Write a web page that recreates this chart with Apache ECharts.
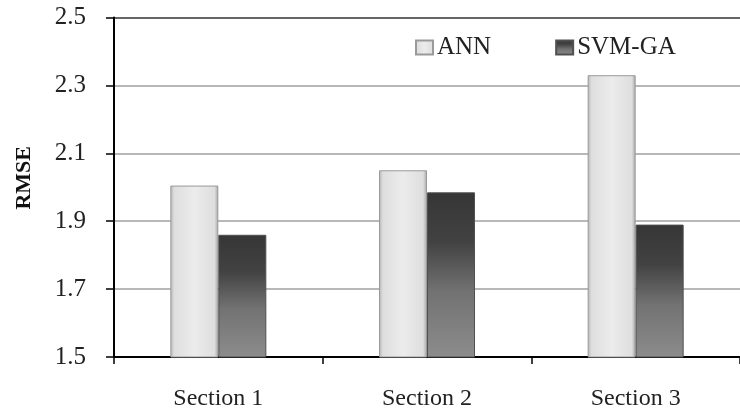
<!DOCTYPE html>
<html>
<head>
<meta charset="utf-8">
<script src="https://cdn.jsdelivr.net/npm/echarts@6/dist/echarts.min.js"></script>
<style>html,body{margin:0;padding:0;background:#fff;}#c{width:740px;height:411px;}</style>
</head>
<body>
<div id="c"></div>
<script>
var categories = ['Section 1', 'Section 2', 'Section 3'];
var annValues = [2.005, 2.05, 2.33];
var svmValues = [1.86, 1.985, 1.89];
var seriesNames = ['ANN', 'SVM-GA'];
var yMin = 1.5, yMax = 2.5, yInterval = 0.2;

var font = '"Liberation Serif", "DejaVu Serif", serif';
var chart = echarts.init(document.getElementById('c'), null, {renderer: 'canvas'});

var annColor = new echarts.graphic.LinearGradient(0, 0, 1, 0, [
  {offset: 0, color: '#b4b4b4'},
  {offset: 0.08, color: '#dedede'},
  {offset: 0.5, color: '#ececec'},
  {offset: 0.92, color: '#dedede'},
  {offset: 1, color: '#a4a4a4'}
]);
var svmColor = new echarts.graphic.LinearGradient(0, 0, 0, 1, [
  {offset: 0, color: '#363636'},
  {offset: 0.3, color: '#424242'},
  {offset: 0.6, color: '#727272'},
  {offset: 1, color: '#8c8c8c'}
]);

chart.setOption({
  backgroundColor: '#ffffff',
  animation: false,
  textStyle: {fontFamily: font, color: '#222'},
  grid: {left: 114, top: 17.5, width: 637, height: 340, containLabel: false},
  legend: {
    left: 410, top: 30,
    itemWidth: 17, itemHeight: 14, itemGap: 64,
    icon: 'rect',
    textStyle: {fontFamily: font, fontSize: 25, color: '#222', padding: [0, 0, 0, -1]},
    data: seriesNames
  },
  xAxis: {
    type: 'category',
    data: categories,
    axisLine: {show: true, lineStyle: {color: '#000', width: 2}},
    axisTick: {show: true, length: 7, lineStyle: {color: '#000', width: 1.5}},
    axisLabel: {fontFamily: font, fontSize: 24, color: '#222', margin: 30}
  },
  yAxis: {
    type: 'value',
    min: yMin, max: yMax, interval: yInterval,
    name: 'RMSE',
    nameLocation: 'middle',
    nameGap: 79,
    nameRotate: 90,
    nameTextStyle: {fontFamily: font, fontSize: 22, fontWeight: 'bold', color: '#111', padding: [0, 0, 0, 19]},
    axisLine: {show: true, lineStyle: {color: '#000', width: 2}},
    axisTick: {show: true, length: 8, lineStyle: {color: '#000', width: 1.5}},
    axisLabel: {fontFamily: font, fontSize: 25, color: '#222', margin: 28,
      formatter: function (v) { return v.toFixed(1); }},
    splitLine: {show: true, lineStyle: {color: ['#a0a0a0', '#a0a0a0', '#a0a0a0', '#a0a0a0', '#a0a0a0', '#333333'], width: 1.5}}
  },
  series: [
    {
      name: seriesNames[0], type: 'bar', data: annValues,
      barWidth: 48, barGap: '0%',
      itemStyle: {color: annColor, borderColor: '#9a9a9a', borderWidth: 1}
    },
    {
      name: seriesNames[1], type: 'bar', data: svmValues,
      barWidth: 48, barGap: '0%',
      itemStyle: {color: svmColor, borderColor: '#505050', borderWidth: 1}
    }
  ]
});
</script>
</body>
</html>
